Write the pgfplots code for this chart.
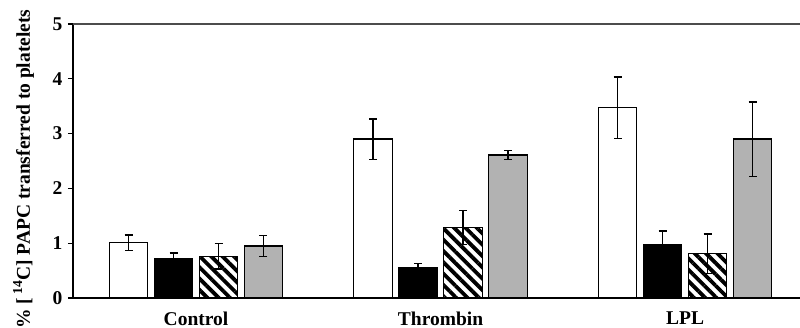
\documentclass[border=0pt]{standalone}
\usepackage{pgfplots}
\pgfplotsset{compat=1.18}
\usepackage{fontspec}
\setmainfont{Liberation Serif}
\usetikzlibrary{patterns.meta}
\definecolor{barg}{RGB}{178,178,178}
\begin{document}
\begin{tikzpicture}
\useasboundingbox (-73pt,-30pt) rectangle (727pt,298pt);
\begin{axis}[
  at={(0,0)}, anchor=south west,
  scale only axis, width=727pt, height=274pt,
  xmin=-0.503, xmax=2.47, ymin=0, ymax=5,
  axis x line*=bottom, axis y line*=left,
  axis line style={line width=1.3pt},
  xtick={0,1,2}, xticklabels={Control,Thrombin,LPL},
  x tick style={draw=none},
  ytick={0,1,2,3,4,5},
  y tick style={line width=1.3pt, black},
  tick align=outside, major tick length=5pt,
  /pgf/number format/assume math mode=true,
  tick label style={font=\fontsize{19.5}{21}\selectfont\bfseries},
  xticklabel style={yshift=-5pt},
  yticklabel style={xshift=-2pt},
  ylabel={\% [\,\textsuperscript{14}C] PAPC transferred to platelets},
  every axis y label/.style={at={(axis description cs:-0.068,0.47)}, rotate=90, anchor=center, font=\fontsize{19.5}{21}\selectfont\bfseries},
  ybar, bar width=0.1575,
  error bars/y dir=both, error bars/y explicit,
  error bars/error bar style={line width=1.5pt, black},
  error bars/error mark options={rotate=90, mark size=4pt, line width=1.5pt, black},
  clip=false,
]
\draw[line width=1.2pt, black!70] (rel axis cs:0,1) -- (rel axis cs:1,1);
\addplot[bar shift=-0.276, draw=black, line width=1.3pt, fill=white]
  coordinates {(0,1.01) +- (0,0.14) (1,2.90) +- (0,0.37) (2,3.47) +- (0,0.56)};
\addplot[bar shift=-0.092, draw=black, line width=1.3pt, fill=black]
  coordinates {(0,0.72) +- (0,0.10) (1,0.56) +- (0,0.07) (2,0.97) +- (0,0.25)};
\addplot[bar shift=0.092, draw=black, line width=1.3pt, fill=white,
  postaction={pattern={Lines[angle=-45,distance=8pt,line width=3.8pt]}, pattern color=black}]
  coordinates {(0,0.76) +- (0,0.23) (1,1.29) +- (0,0.31) (2,0.81) +- (0,0.36)};
\addplot[bar shift=0.276, draw=black, line width=1.3pt, fill=barg]
  coordinates {(0,0.95) +- (0,0.19) (1,2.61) +- (0,0.08) (2,2.90) +- (0,0.68)};
\end{axis}
\end{tikzpicture}
\end{document}
